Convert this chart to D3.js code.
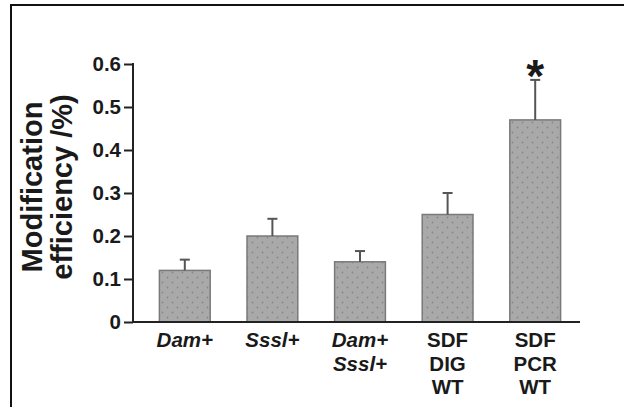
<!DOCTYPE html>
<html>
<head>
<meta charset="utf-8">
<script src="https://cdn.jsdelivr.net/npm/d3@7"></script>
<style>
  html, body { margin: 0; padding: 0; background: #fff; }
  svg { display: block; }
  text { font-family: "Liberation Sans", Arial, Helvetica, sans-serif; font-weight: bold; fill: #1a1a1a; }
</style>
</head>
<body>
<svg id="chart" width="624" height="407"></svg>
<script>
// Sample groups (each label line is a separate entry; italic marks gene names)
const categories = ["Dam+", "Sssl+", "Dam+ Sssl+", "SDF DIG WT", "SDF PCR WT"];
const labelLines = [
  [["Dam+", true]],
  [["Sssl+", true]],
  [["Dam+", true], ["Sssl+", true]],
  [["SDF", false], ["DIG", false], ["WT", false]],
  [["SDF", false], ["PCR", false], ["WT", false]]
];
// Mean modification efficiency (%) and upper error bar end
const means = [0.12, 0.20, 0.14, 0.25, 0.47];
const errorTops = [0.145, 0.24, 0.165, 0.30, 0.563];
// Significance marker per group
const marks = ["", "", "", "", "*"];
const yTicks = [0, 0.1, 0.2, 0.3, 0.4, 0.5, 0.6];

const svg = d3.select("#chart");

// Dotted grey fill for the bars
const defs = svg.append("defs");
const pat = defs.append("pattern")
  .attr("id", "dots").attr("patternUnits", "userSpaceOnUse")
  .attr("width", 10).attr("height", 10);
pat.append("rect").attr("width", 10).attr("height", 10).attr("fill", "#a9a9a9");
pat.append("circle").attr("cx", 2.5).attr("cy", 2.5).attr("r", 0.9).attr("fill", "#888");
pat.append("circle").attr("cx", 7.5).attr("cy", 7.5).attr("r", 0.9).attr("fill", "#888");

// Frame lines along the top and left edges
svg.append("line").attr("x1", 11).attr("x2", 624).attr("y1", 5).attr("y2", 5)
  .attr("stroke", "#111").attr("stroke-width", 2);
svg.append("line").attr("x1", 11).attr("x2", 11).attr("y1", 4).attr("y2", 407)
  .attr("stroke", "#111").attr("stroke-width", 2);

const x0 = 133, x1 = 580, yBottom = 322, yTop = 64;

const x = d3.scaleBand()
  .domain(categories)
  .range([141, 579])
  .paddingInner(0.42)
  .paddingOuter(0.21);

const y = d3.scaleLinear().domain([0, 0.6]).range([yBottom, yTop]);

// Bars
svg.append("g").selectAll("rect")
  .data(categories)
  .join("rect")
  .attr("x", d => x(d))
  .attr("y", (d, i) => y(means[i]))
  .attr("width", x.bandwidth())
  .attr("height", (d, i) => y(0) - y(means[i]))
  .attr("fill", "url(#dots)")
  .attr("stroke", "#7a7a7a")
  .attr("stroke-width", 1.5);

// Upper error bars
const eb = svg.append("g").attr("stroke", "#555").attr("stroke-width", 2);
categories.forEach((c, i) => {
  const cx = x(c) + x.bandwidth() / 2;
  eb.append("line").attr("x1", cx).attr("x2", cx)
    .attr("y1", y(means[i])).attr("y2", y(errorTops[i]));
  eb.append("line").attr("x1", cx - 5).attr("x2", cx + 5)
    .attr("y1", y(errorTops[i])).attr("y2", y(errorTops[i]));
});

// Significance asterisk
svg.append("g").selectAll("text")
  .data(categories)
  .join("text")
  .attr("x", d => x(d) + x.bandwidth() / 2)
  .attr("y", (d, i) => y(errorTops[i]) + 12)
  .attr("text-anchor", "middle")
  .style("font-size", "46px")
  .text((d, i) => marks[i]);

// Y axis
const yAxis = d3.axisLeft(y)
  .tickValues(yTicks)
  .tickSize(9)
  .tickPadding(3)
  .tickFormat(d => d === 0 ? "0" : d3.format(".1f")(d));
const gy = svg.append("g").attr("transform", `translate(${x0},0)`).call(yAxis);
gy.select(".domain").remove();
gy.selectAll(".tick line").attr("stroke", "#222").attr("stroke-width", 2);
gy.selectAll(".tick text").style("font-size", "20.5px").attr("fill", "#1a1a1a")
  .style("font-family", "'Liberation Sans', Arial, sans-serif").style("font-weight", "bold");
svg.append("line").attr("x1", x0).attr("x2", x0).attr("y1", yTop - 1).attr("y2", yBottom + 1)
  .attr("stroke", "#222").attr("stroke-width", 2);

// X axis baseline
svg.append("line").attr("x1", x0 - 1).attr("x2", x1).attr("y1", yBottom).attr("y2", yBottom)
  .attr("stroke", "#222").attr("stroke-width", 2);

// Category labels
const xl = svg.append("g");
categories.forEach((c, i) => {
  const cx = x(c) + x.bandwidth() / 2;
  labelLines[i].forEach(([t, it], j) => {
    xl.append("text")
      .attr("x", cx).attr("y", 347 + j * 23.5)
      .attr("text-anchor", "middle")
      .style("font-size", "20.5px")
      .style("font-style", it ? "italic" : "normal")
      .text(t);
  });
});

// Y axis title
const title = svg.append("g").attr("transform", "translate(0,187) rotate(-90)");
title.append("text").attr("x", 0).attr("y", 42).attr("text-anchor", "middle")
  .style("font-size", "29px").text("Modification");
title.append("text").attr("x", 0).attr("y", 72).attr("text-anchor", "middle")
  .style("font-size", "29px").text("efficiency /%)");
</script>
</body>
</html>
